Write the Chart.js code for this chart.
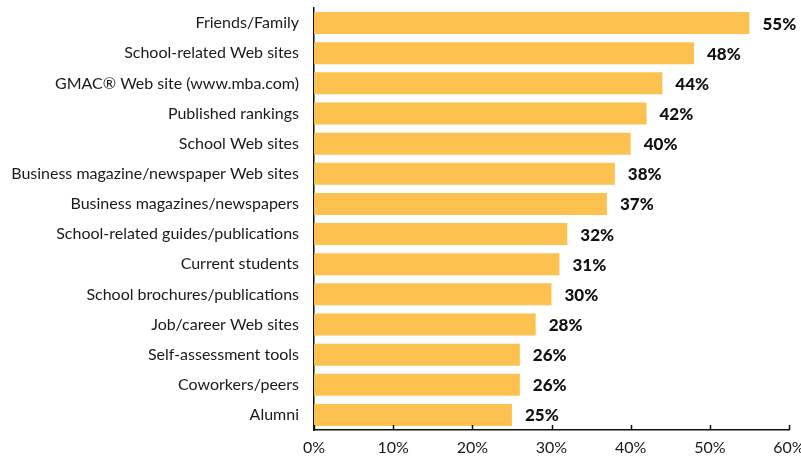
<!DOCTYPE html>
<html>
<head>
<meta charset="utf-8">
<script src="https://cdn.jsdelivr.net/npm/chart.js@4.4.1/dist/chart.umd.min.js"></script>
<style>
  html, body { margin: 0; padding: 0; background: #fff; overflow: hidden; }
  #wrap { width: 801px; height: 458px; position: relative; }
</style>
</head>
<body>
<div id="wrap"><canvas id="sources-chart"></canvas></div>
<script>
var categories = [
  'Friends/Family',
  'School-related Web sites',
  'GMAC\u00AE Web site (www.mba.com)',
  'Published rankings',
  'School Web sites',
  'Business magazine/newspaper Web sites',
  'Business magazines/newspapers',
  'School-related guides/publications',
  'Current students',
  'School brochures/publications',
  'Job/career Web sites',
  'Self-assessment tools',
  'Coworkers/peers',
  'Alumni'
];
var percents = [55, 48, 44, 42, 40, 38, 37, 32, 31, 30, 28, 26, 26, 25];
var axisTicks = [0, 10, 20, 30, 40, 50, 60];

// value text to the right of each bar
var barValues = {
  id: 'barValues',
  afterDatasetsDraw: function (chart) {
    var ctx = chart.ctx;
    var meta = chart.getDatasetMeta(0);
    ctx.save();
    ctx.font = '900 17px Lato';
    ctx.fillStyle = '#111';
    ctx.textAlign = 'left';
    ctx.textBaseline = 'middle';
    meta.data.forEach(function (bar, i) {
      ctx.fillText(percents[i] + '%', bar.x + 13, bar.y + 1);
    });
    ctx.restore();
  }
};

// short tick marks pointing up from the x axis
var innerTicks = {
  id: 'innerTicks',
  afterDraw: function (chart) {
    var ctx = chart.ctx;
    var x = chart.scales.x;
    var bottom = chart.chartArea.bottom;
    ctx.save();
    ctx.strokeStyle = '#111';
    ctx.lineWidth = 1.5;
    ctx.beginPath();
    axisTicks.forEach(function (v) {
      var px = Math.round(x.getPixelForValue(v)) + 0.5;
      ctx.moveTo(px, bottom - 5);
      ctx.lineTo(px, bottom);
    });
    ctx.stroke();
    ctx.restore();
  }
};

new Chart(document.getElementById('sources-chart').getContext('2d'), {
  type: 'bar',
  data: {
    labels: categories,
    datasets: [{
      data: percents,
      backgroundColor: '#FDC150',
      borderWidth: 0,
      categoryPercentage: 1,
      barPercentage: 0.73
    }]
  },
  options: {
    indexAxis: 'y',
    responsive: true,
    maintainAspectRatio: false,
    animation: false,
    layout: { padding: { top: 8, left: 0, right: 12, bottom: 0 } },
    plugins: {
      legend: { display: false },
      tooltip: { enabled: false }
    },
    scales: {
      y: {
        grid: { display: false, drawTicks: false },
        border: { display: true, color: '#111', width: 1.5 },
        ticks: {
          padding: 15,
          color: '#1a1a1a',
          font: { family: 'Lato', size: 16 }
        },
        afterFit: function (scale) {
          scale.width = 314;
          scale.paddingTop = 0;
          scale.paddingBottom = 0;
        }
      },
      x: {
        min: 0,
        max: 60,
        grid: { display: false, drawTicks: false },
        border: { display: true, color: '#111', width: 1.5 },
        ticks: {
          stepSize: 10,
          padding: 8,
          color: '#1a1a1a',
          font: { family: 'Lato', size: 16 },
          callback: function (v) { return v + '%'; }
        },
        afterFit: function (scale) {
          scale.height = 28;
          scale.paddingLeft = 0;
          scale.paddingRight = 0;
        }
      }
    }
  },
  plugins: [barValues, innerTicks]
});
</script>
</body>
</html>
